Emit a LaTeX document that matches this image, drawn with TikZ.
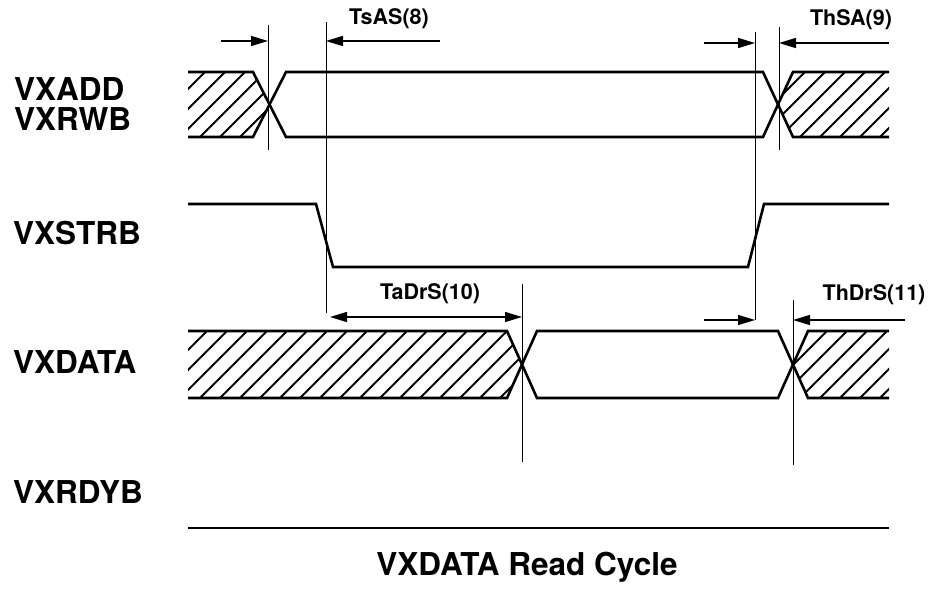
\documentclass[tikz,border=0pt]{standalone}
\usepackage{fontspec}
\setmainfont{TeX Gyre Heros}
\usetikzlibrary{arrows.meta}
\begin{document}
\begin{tikzpicture}[x=1pt,y=-1pt,
  sig/.style={line width=2.6pt, line join=miter},
  guide/.style={line width=0.9pt},
  hatchline/.style={line width=1.8pt},
  tip/.style={},
  dimarrow/.style={line width=1.4pt, -{Triangle[length=17pt,width=10pt]}},
  lbl/.style={font=\fontsize{31.5}{31.5}\selectfont\bfseries, anchor=base west, inner sep=0pt},
  tlbl/.style={font=\fontsize{21.5}{21.5}\selectfont\bfseries, inner sep=0pt}]
\useasboundingbox (0,0) rectangle (930,592);

% ---------- hatching ----------
\begin{scope}
  \clip (188,72) -- (253,72) -- (269.5,104.5) -- (253,137) -- (188,137) -- cycle;
  \foreach \x in {100,120,...,280} \draw[hatchline] (\x,137) -- ++(65,-65);
\end{scope}
\begin{scope}
  \clip (793,72) -- (889,72) -- (889,137) -- (793,137) -- (778,104.5) -- cycle;
  \foreach \x in {700,720,...,900} \draw[hatchline] (\x,137) -- ++(65,-65);
\end{scope}
\begin{scope}
  \clip (188,331) -- (507,331) -- (522,364.5) -- (507,398) -- (188,398) -- cycle;
  \foreach \x in {100,120,...,540} \draw[hatchline] (\x,398) -- ++(67,-67);
\end{scope}
\begin{scope}
  \clip (808,331) -- (889,331) -- (889,398) -- (808,398) -- (793,364.5) -- cycle;
  \foreach \x in {720,740,...,900} \draw[hatchline] (\x,398) -- ++(67,-67);
\end{scope}

% ---------- signals ----------
% VXADD / VXRWB bus
\draw[sig] (188,72) -- (253,72) -- (286,137) -- (763,137) -- (793,72) -- (889,72);
\draw[sig] (188,137) -- (253,137) -- (286,72) -- (763,72) -- (793,137) -- (889,137);
% VXSTRB
\draw[sig] (188,204) -- (316,204) -- (333,267) -- (748,267) -- (764,204) -- (889,204);
% VXDATA bus
\draw[sig] (188,331) -- (507,331) -- (537,398) -- (778,398) -- (808,331) -- (889,331);
\draw[sig] (188,398) -- (507,398) -- (537,331) -- (778,331) -- (808,398) -- (889,398);
% VXRDYB
\draw[sig] (188,528) -- (889,528);

% ---------- guide lines ----------
\draw[guide] (268,25) -- (268,150);
\draw[guide] (326,22) -- (326,313);
\draw[guide] (755,32) -- (755,320);
\draw[guide] (779,27) -- (779,150);
\draw[guide] (522,284) -- (522,462);
\draw[guide] (793,300) -- (793,465);

% ---------- dimension arrows ----------
\coordinate (a1s) at (221,41);  \coordinate (a1e) at (268,41);
\coordinate (a2s) at (440,41);  \coordinate (a2e) at (326,41);
\coordinate (a3s) at (704,43);  \coordinate (a3e) at (755,43);
\coordinate (a4s) at (889,43);  \coordinate (a4e) at (779,43);
\coordinate (a5s) at (330,317); \coordinate (a5e) at (522,317);
\coordinate (a6s) at (704,320); \coordinate (a6e) at (755,320);
\coordinate (a7s) at (905,320); \coordinate (a7e) at (793,320);
\draw[dimarrow] (a1s) -- (a1e);
\draw[dimarrow] (a2s) -- (a2e);
\draw[dimarrow] (a3s) -- (a3e);
\draw[dimarrow] (a4s) -- (a4e);
\draw[dimarrow, {Triangle[length=17pt,width=10pt]}-{Triangle[length=17pt,width=10pt]}] (a5s) -- (a5e);
\draw[dimarrow] (a6s) -- (a6e);
\draw[dimarrow] (a7s) -- (a7e);

% ---------- timing labels ----------
\node[tlbl] (tsas) at (389,19) {TsAS(8)};
\node[tlbl] (thsa) at (851,20) {ThSA(9)};
\node[tlbl] (tadrs) at (430,294) {TaDrS(10)};
\node[tlbl] (thdrs) at (874,295) {ThDrS(11)};

% ---------- signal names ----------
\node[lbl] (vxadd) at (14,100) {VXADD};
\node[lbl] (vxrwb) at (14,130) {VXRWB};
\node[lbl] (vxstrb) at (13,244) {VXSTRB};
\node[lbl] (vxdata) at (13,373) {VXDATA};
\node[lbl] (vxrdyb) at (13,503) {VXRDYB};

% ---------- title ----------
\node[font=\fontsize{31.5}{31.5}\selectfont\bfseries, anchor=base, inner sep=0pt] (title) at (527,575) {VXDATA Read Cycle};
\end{tikzpicture}
\end{document}
